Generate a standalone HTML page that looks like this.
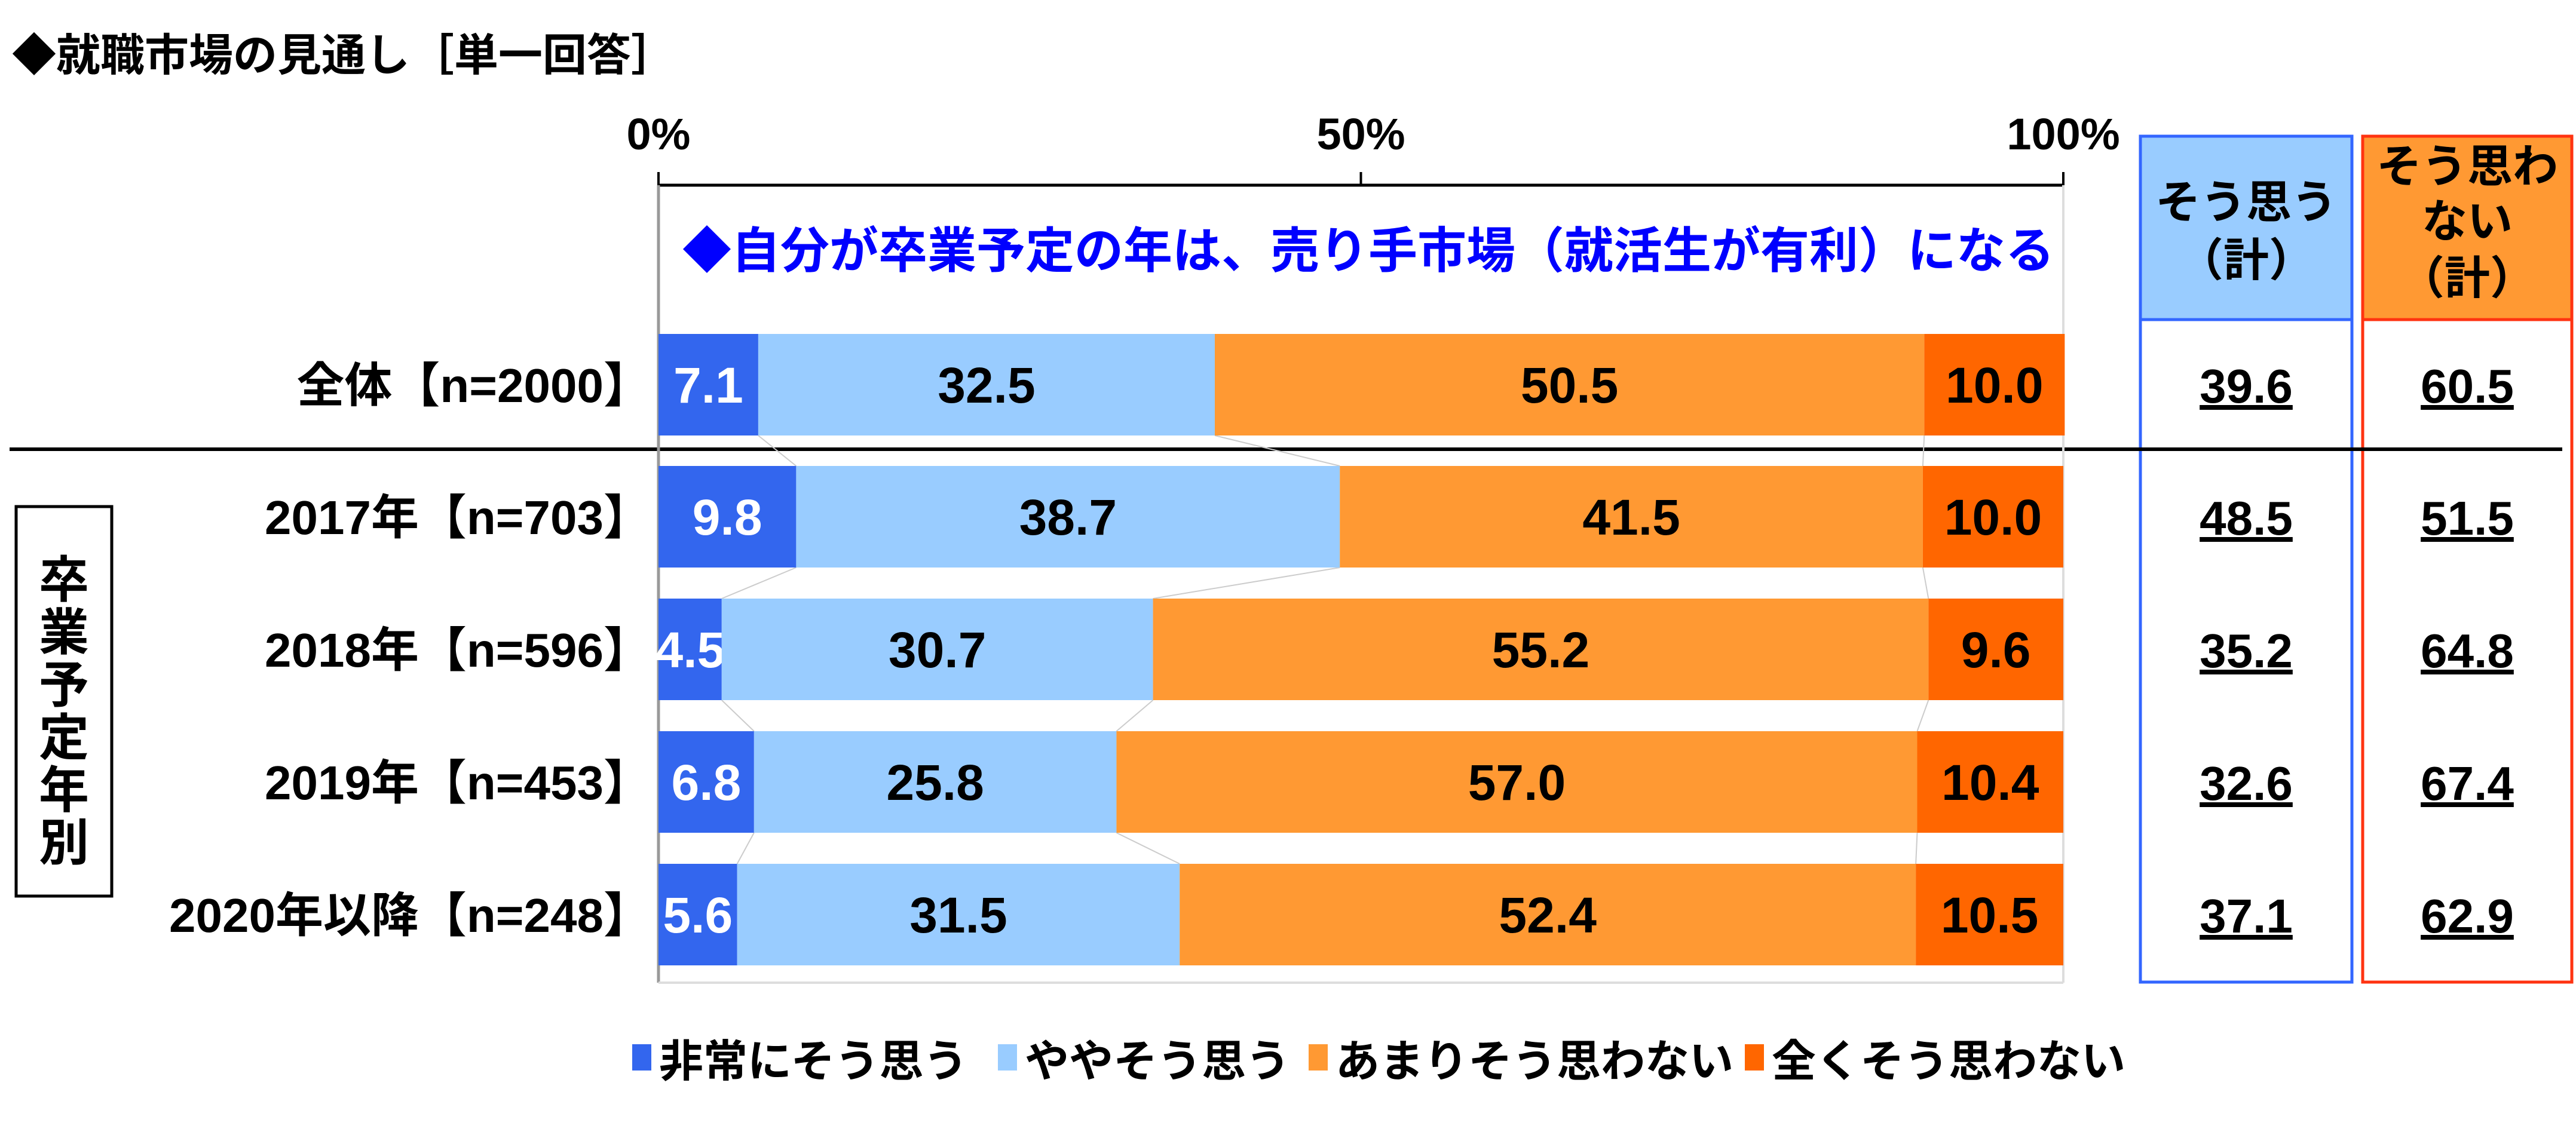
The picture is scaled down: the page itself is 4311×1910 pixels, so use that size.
<!DOCTYPE html>
<html><head><meta charset="utf-8"><style>
body{margin:0;background:#fff;}
svg text{font-family:"Liberation Sans","Noto Sans CJK JP",sans-serif;font-weight:bold;}
</style></head><body>
<svg id="c" width="4311" height="1905" xmlns="http://www.w3.org/2000/svg">
<text x="20" y="118" font-size="74" fill="#000">◆就職市場の見通し［単一回答］</text>
<rect x="27" y="848" width="160" height="652" fill="#fff" stroke="#000" stroke-width="5"/>
<g font-size="84" text-anchor="middle">
<text x="107" y="1000">卒</text><text x="107" y="1088">業</text><text x="107" y="1176">予</text>
<text x="107" y="1264">定</text><text x="107" y="1352">年</text><text x="107" y="1440">別</text>
</g>
<rect x="3582" y="228" width="354" height="307" fill="#99ccff"/>
<rect x="3582" y="228" width="354" height="1416" fill="none" stroke="#3366ff" stroke-width="5"/>
<line x1="3582" y1="535" x2="3936" y2="535" stroke="#3366ff" stroke-width="5"/>
<text x="3759" y="365" font-size="76" text-anchor="middle">そう思う</text>
<text x="3759" y="462" font-size="76" text-anchor="middle">（計）</text>
<rect x="3954" y="228" width="350" height="307" fill="#ff9933"/>
<rect x="3954" y="228" width="350" height="1416" fill="none" stroke="#ff3311" stroke-width="5"/>
<line x1="3954" y1="535" x2="4304" y2="535" stroke="#ff3311" stroke-width="5"/>
<text x="4129" y="305" font-size="76" text-anchor="middle">そう思わ</text>
<text x="4129" y="397" font-size="76" text-anchor="middle">ない</text>
<text x="4129" y="492" font-size="76" text-anchor="middle">（計）</text>
<text x="2290" y="448" font-size="82" fill="#0000ff" text-anchor="middle">◆自分が卒業予定の年は、売り手市場（就活生が有利）になる</text>
<line x1="16" y1="752" x2="4288" y2="752" stroke="#000" stroke-width="6"/>
<g id="g"></g>
</svg>
<script>
const categories=["全体【n=2000】","2017年【n=703】","2018年【n=596】","2019年【n=453】","2020年以降【n=248】"];
const veryAgree=[7.1,9.8,4.5,6.8,5.6];
const someAgree=[32.5,38.7,30.7,25.8,31.5];
const someDisagree=[50.5,41.5,55.2,57.0,52.4];
const stronglyDisagree=[10.0,10.0,9.6,10.4,10.5];
const agreeTotal=["39.6","48.5","35.2","32.6","37.1"];
const disagreeTotal=["60.5","51.5","64.8","67.4","62.9"];
const tickLabels=["0%","50%","100%"];
const tickValues=[0,50,100];
const seriesNames=["非常にそう思う","ややそう思う","あまりそう思わない","全くそう思わない"];
const colors=["#3366ee","#99ccff","#ff9933","#ff6600"];
const textColors=["#fff","#000","#000","#000"];
const NS="http://www.w3.org/2000/svg";
const g=document.getElementById('g');
const X0=1102,X1=3453;
const x=v=>X0+(X1-X0)*v/100;
const rowTop=[559,780,1002,1224,1446];const BH=170;
function mk(t,a,txt){const e=document.createElementNS(NS,t);for(const k in a)e.setAttribute(k,a[k]);if(txt!==undefined)e.textContent=txt;g.appendChild(e);return e;}
let e=mk('line',{x1:X0,y1:310,x2:X1,y2:310,stroke:'#000','stroke-width':5});


mk('line',{x1:X0,y1:310,x2:X0,y2:1645,stroke:'#999','stroke-width':5});
mk('line',{x1:X1,y1:310,x2:X1,y2:1645,stroke:'#ddd','stroke-width':4});
mk('line',{x1:X0,y1:1645,x2:X1,y2:1645,stroke:'#ddd','stroke-width':4});
tickValues.forEach((v,i)=>{
 mk('line',{x1:x(v),y1:288,x2:x(v),y2:310,stroke:'#000','stroke-width':4});
 const t=mk('text',{x:x(v),y:250,'font-size':74,'text-anchor':'middle'},tickLabels[i]);
 
 
});
const series=[veryAgree,someAgree,someDisagree,stronglyDisagree];
for(let r=0;r<categories.length-1;r++){let c1=0,c2=0;for(let s=0;s<3;s++){c1+=series[s][r];c2+=series[s][r+1];
 mk('line',{x1:x(c1),y1:rowTop[r]+BH,x2:x(c2),y2:rowTop[r+1],stroke:'#ccc','stroke-width':2});}}
categories.forEach((c,r)=>{
 const y=rowTop[r];let cum=0;
 const lab=mk('text',{x:1090,y:y+BH/2+29,'font-size':80,'text-anchor':'end'},c);
 
 
 series.forEach((s,i)=>{
  const v=s[r];
  const b=mk('rect',{x:x(cum),y:y,width:x(cum+v)-x(cum),height:BH,fill:colors[i]});
  
  
  const t=mk('text',{x:(x(cum)+x(cum+v))/2,y:y+BH/2+30,'font-size':84,'text-anchor':'middle',fill:textColors[i]},v.toFixed(1));
  
  
  cum+=v;
 });
 const a=mk('text',{x:3759,y:y+BH/2+30,'font-size':80,'text-anchor':'middle','text-decoration':'underline'},agreeTotal[r]);
 
 
 const d=mk('text',{x:4129,y:y+BH/2+30,'font-size':80,'text-anchor':'middle','text-decoration':'underline'},disagreeTotal[r]);
 
 
});
const legX=[1058,1670,2190,2920];
seriesNames.forEach((n,i)=>{
 const s=mk('rect',{x:legX[i],y:1748,width:32,height:44,fill:colors[i]});
 
 
 const t=mk('text',{x:legX[i]+45,y:1802,'font-size':74},n);
 
 
});
</script>
</body></html>
